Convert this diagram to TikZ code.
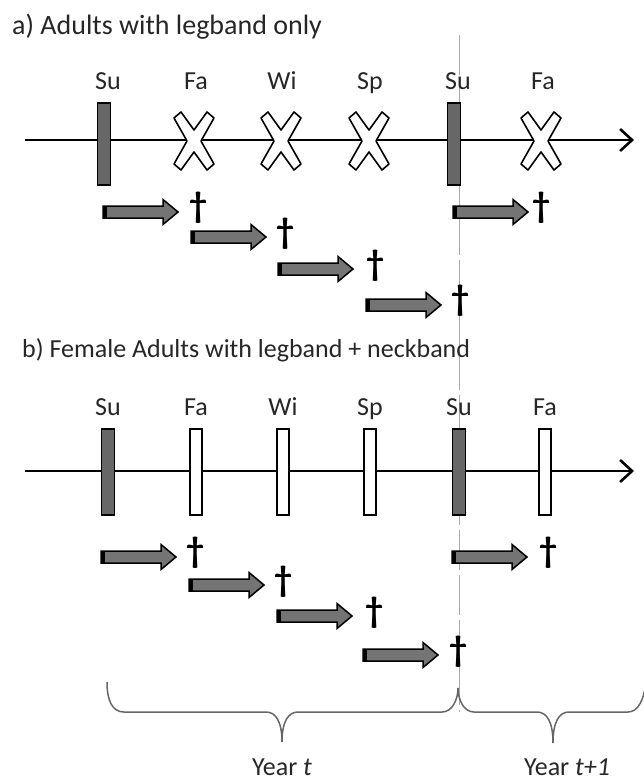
\documentclass[tikz,border=0pt]{standalone}
\usepackage{fontspec}
\setmainfont{Carlito}
\usetikzlibrary{arrows.meta}
\definecolor{bandgray}{HTML}{676767}
\definecolor{arrgray}{HTML}{747474}
\definecolor{linegray}{HTML}{A8A8A8}
\definecolor{bracegray}{HTML}{666666}
\definecolor{textgray}{HTML}{262626}
\tikzset{
  axisline/.style={line width=2.6pt,-{Straight Barb[length=12pt,width=22pt]}},
  darkbar/.style={draw=black,line width=1.3pt,fill=bandgray,minimum width=13pt,inner sep=0pt,outer sep=0pt},
  openbar/.style={draw=black,line width=1.3pt,fill=white,minimum width=12pt,inner sep=0pt,outer sep=0pt},
  titletext/.style={inner sep=0pt,text=textgray},
  seasontext/.style={font=\fontsize{26}{30}\selectfont,inner sep=0pt,text=textgray},
  daggertext/.style={font=\fontsize{36}{36}\bfseries\selectfont,inner sep=0pt},
  yeartext/.style={font=\fontsize{26}{30}\selectfont,inner sep=0pt,text=textgray},
  yearline/.style={draw=linegray,line width=1pt,dash pattern=on 40pt off 5pt},
  bracepath/.style={draw=bracegray,line width=1.5pt},
  blockarrow/.pic={
    \draw[line width=1.5pt,fill=arrgray,line join=miter]
      (0,-6) -- (60,-6) -- (60,-12.5) -- (75,0) -- (60,12.5) -- (60,6) -- (0,6) -- cycle;
    \fill[black] (0,-6) rectangle (4,6);
  },
  xmark/.pic={
    \draw[line width=1.6pt,fill=white,line join=round]
      (-20,-23) -- (-13,-29) -- (0,-11) -- (13,-29) -- (20,-23) -- (7,0) --
      (20,23) -- (13,29) -- (0,11) -- (-13,29) -- (-20,23) -- (-7,0) -- cycle;
  }
}
\begin{document}
\begin{tikzpicture}[x=1pt,y=-1pt]
\useasboundingbox (0,0) rectangle (644,780);

% year separator line (behind everything)
\coordinate (sepTop) at (459,35);
\coordinate (sepBot) at (459,712);
\draw[yearline] (sepTop) -- (sepBot);

% ---------- panel a ----------
\node[titletext,font=\fontsize{28}{32}\selectfont,anchor=base west] (titleA) at (12,34) {a) Adults with legband only};

\coordinate (axAstart) at (25,140);
\coordinate (axAend) at (634,140);
\draw[axisline] (axAstart) -- (axAend);

\foreach \x/\n/\t in {108/A1/Su,196/A2/Fa,282/A3/Wi,370/A4/Sp,458/A5/Su,543/A6/Fa}
  \node[seasontext,anchor=base] (lab\n) at (\x,89) {\t};

\node[darkbar,minimum height=82pt] (barA1) at (104,144) {};
\node[darkbar,minimum height=82pt] (barA5) at (454,144) {};
\pic at (194,141) {xmark};
\pic at (281,141) {xmark};
\pic at (369,141) {xmark};
\pic at (541,141) {xmark};

\pic at (103,212) {blockarrow};
\node[daggertext] (dA1) at (198,208) {†};
\pic at (191,237) {blockarrow};
\node[daggertext] (dA2) at (285,234) {†};
\pic at (278,269) {blockarrow};
\node[daggertext] (dA3) at (375,266) {†};
\pic at (366,305) {blockarrow};
\node[daggertext] (dA4) at (460,301) {†};
\pic at (453,212) {blockarrow};
\node[daggertext] (dA5) at (541,208) {†};

% ---------- panel b ----------
\node[titletext,font=\fontsize{26}{30}\selectfont,anchor=base west] (titleB) at (22,357) {b) Female Adults with legband + neckband};

\coordinate (axBstart) at (25,471);
\coordinate (axBend) at (634,471);
\draw[axisline] (axBstart) -- (axBend);

\foreach \x/\n/\t in {108/B1/Su,196/B2/Fa,283/B3/Wi,370/B4/Sp,459/B5/Su,545/B6/Fa}
  \node[seasontext,anchor=base] (lab\n) at (\x,415) {\t};

\node[darkbar,minimum height=86pt] (barB1) at (108,472) {};
\node[openbar,minimum height=86pt] (barB2) at (196,472) {};
\node[openbar,minimum height=86pt] (barB3) at (283,472) {};
\node[openbar,minimum height=86pt] (barB4) at (370,472) {};
\node[darkbar,minimum height=86pt] (barB5) at (459,472) {};
\node[openbar,minimum height=86pt] (barB6) at (545,472) {};

\pic at (101,557) {blockarrow};
\node[daggertext] (dB1) at (195,553) {†};
\pic at (189,585) {blockarrow};
\node[daggertext] (dB2) at (283,582) {†};
\pic at (277,616) {blockarrow};
\node[daggertext] (dB3) at (374,613) {†};
\pic at (363,655) {blockarrow};
\node[daggertext] (dB4) at (458,652) {†};
\pic at (452,557) {blockarrow};
\node[daggertext] (dB5) at (548,553) {†};

% ---------- braces ----------
\coordinate (brL) at (107,682);
\coordinate (brTipT) at (282,742);
\coordinate (brCusp) at (458,688);
\coordinate (brTipT1) at (553,743);
\coordinate (brR) at (646,682);
\draw[bracepath] (brL) .. controls (107,700) and (112,712) .. (124,712)
  -- (266,712) .. controls (276,712) and (282,722) .. (brTipT)
  .. controls (282,722) and (288,712) .. (298,712)
  -- (442,712) .. controls (452,712) and (458,700) .. (brCusp)
  .. controls (458,700) and (464,712) .. (474,712)
  -- (537,712) .. controls (547,712) and (553,722) .. (brTipT1)
  .. controls (553,722) and (559,712) .. (569,712)
  -- (628,712) .. controls (638,712) and (644,700) .. (brR);

\node[yeartext,anchor=base] (yearT) at (282,775) {Year \textit{t}};
\node[yeartext,anchor=base] (yearT1) at (567,775) {Year \textit{t+1}};
\end{tikzpicture}
\end{document}
